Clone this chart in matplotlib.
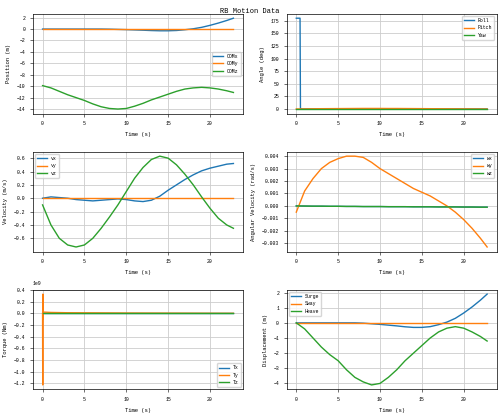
import numpy as np
import matplotlib.pyplot as plt

plt.rcParams['font.family'] = ['Liberation Mono', 'DejaVu Sans Mono']
plt.rcParams['font.size'] = 4

# time samples
t = [0, 1, 2, 3, 4, 5, 6, 7, 8, 9, 10, 11, 12, 13, 14, 15, 16, 17, 18, 19, 20, 21, 22, 22.8]
com_x = [0, 0, 0, 0, 0, 0, 0, 0, -0.02, -0.06, -0.1, -0.15, -0.2, -0.26, -0.3, -0.3, -0.25, -0.12, 0.05, 0.3, 0.65, 1.05, 1.5, 1.9]
com_y = [0] * 24
com_z = [-9.9, -10.3, -10.9, -11.5, -12.0, -12.5, -13.1, -13.6, -13.9, -14.0, -13.9, -13.5, -13.0, -12.4, -11.9, -11.4, -10.9, -10.5, -10.3, -10.2, -10.3, -10.5, -10.8, -11.1]
vx = [0, 0.02, 0.01, 0, -0.02, -0.03, -0.04, -0.03, -0.02, -0.01, -0.02, -0.04, -0.05, -0.03, 0.03, 0.12, 0.2, 0.28, 0.35, 0.41, 0.45, 0.48, 0.51, 0.52]
vy = [0] * 24
vz = [-0.1, -0.4, -0.6, -0.7, -0.73, -0.7, -0.6, -0.45, -0.28, -0.1, 0.1, 0.3, 0.46, 0.58, 0.63, 0.6, 0.5, 0.36, 0.2, 0.02, -0.15, -0.3, -0.4, -0.45]
wx = [0, -0.00001, -0.00002, -0.00002, -0.00003, -0.00003, -0.00004, -0.00004, -0.00005, -0.00005, -0.00005, -0.00006, -0.00006, -0.00006, -0.00007, -0.00007, -0.00007, -0.00008, -0.00008, -0.00008, -0.00009, -0.00009, -0.0001, -0.0001]
wy = [-0.0005, 0.0012, 0.0022, 0.003, 0.0035, 0.0038, 0.004, 0.0040, 0.0039, 0.0035, 0.003, 0.0026, 0.0022, 0.0018, 0.0014, 0.0011, 0.0008, 0.0004, 0.0, -0.0005, -0.0011, -0.0018, -0.0026, -0.0033]
wz = wx
roll_t = [0, 0.45, 0.5, 0.55, 22.8]
roll = [180, 180, 0, 0, 0]
pitch = [0, 0, 0.3, 0.5, 0.6, 0.7, 0.8, 0.9, 1.0, 1.0, 1.0, 0.9, 0.9, 0.8, 0.7, 0.6, 0.5, 0.4, 0.3, 0.2, 0.1, 0.0, -0.1, -0.2]
yaw = [0] * 24
tq_t = [0, 0.02, 0.04, 0.06, 0.08, 0.1, 0.3, 1, 3, 10, 22.8]
tx = [0] * 11
ty = [0, -1.23e9, 0.33e9, -0.1e9, 0.03e9, 0.02e9, 0.02e9, 0.015e9, 0.01e9, 0.005e9, 0.0]
tz = [0] * 11
heave = [0, -0.4, -1.0, -1.6, -2.1, -2.5, -3.1, -3.6, -3.9, -4.1, -4.0, -3.6, -3.1, -2.5, -2.0, -1.5, -1.0, -0.6, -0.35, -0.25, -0.35, -0.6, -0.9, -1.2]

fig, axes = plt.subplots(3, 2, figsize=(5, 4.16), dpi=100)
fig.suptitle("RB Motion Data", fontsize=5)

def style(ax, ylabel, loc):
    ax.set_xlabel("Time (s)")
    ax.set_ylabel(ylabel)
    ax.grid(True, color="#cccccc", linewidth=0.6)
    ax.legend(loc=loc, fontsize=3.5)
    ax.tick_params(labelsize=3.5, length=2, width=0.4)
    for s in ax.spines.values():
        s.set_linewidth(0.5)

LW = 1.0
ax = axes[0, 0]
ax.plot(t, com_x, label="COMx", lw=LW)
ax.plot(t, com_y, label="COMy", lw=LW)
ax.plot(t, com_z, label="COMz", lw=LW)
style(ax, "Position (m)", "center right")

ax = axes[0, 1]
ax.plot(roll_t, roll, label="Roll", lw=LW)
ax.plot(t, pitch, label="Pitch", lw=LW)
ax.plot(t, yaw, label="Yaw", lw=LW)
ax.set_yticks(range(0, 176, 25))
style(ax, "Angle (deg)", "upper right")

ax = axes[1, 0]
ax.plot(t, vx, label="vx", lw=LW)
ax.plot(t, vy, label="vy", lw=LW)
ax.plot(t, vz, label="vz", lw=LW)
style(ax, "Velocity (m/s)", "upper left")

ax = axes[1, 1]
ax.plot(t, wx, label="wx", lw=LW)
ax.plot(t, wy, label="wy", lw=LW)
ax.plot(t, wz, label="wz", lw=LW)
style(ax, "Angular Velocity (rad/s)", "upper right")

ax = axes[2, 0]
ax.plot(tq_t, tx, label="Tx", lw=LW)
ax.plot(tq_t, ty, label="Ty", lw=LW)
ax.plot(tq_t, tz, label="Tz", lw=LW)
style(ax, "Torque (Nm)", "lower right")
ax.yaxis.get_offset_text().set_fontsize(3.5)

ax = axes[2, 1]
ax.plot(t, com_x, label="Surge", lw=LW)
ax.plot(t, com_y, label="Sway", lw=LW)
ax.plot(t, heave, label="Heave", lw=LW)
style(ax, "Displacement (m)", "upper left")

plt.tight_layout(pad=0.6, h_pad=1.2, w_pad=1.5)
plt.savefig("out.png", dpi=100)
